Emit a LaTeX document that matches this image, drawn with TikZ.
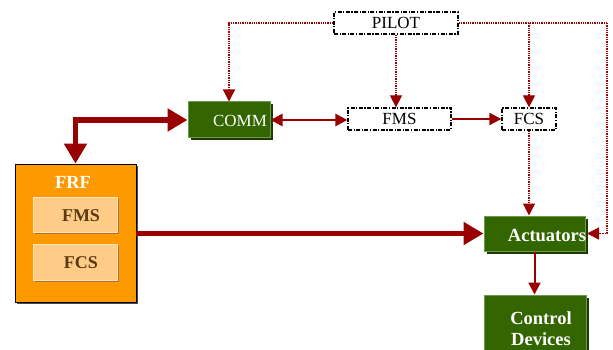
\documentclass[tikz,border=0pt]{standalone}
\usepackage{fontspec}
\setmainfont{Liberation Serif}
\usetikzlibrary{arrows.meta,shadows}
\definecolor{dred}{HTML}{990000}
\definecolor{gfill}{HTML}{336600}
\definecolor{gedge}{HTML}{6E9A4E}
\definecolor{gshadow}{HTML}{1E3A00}
\definecolor{ofill}{HTML}{FF9900}
\definecolor{lofill}{HTML}{FFCC88}
\definecolor{loshadow}{HTML}{A87838}
\definecolor{loedge}{HTML}{FFE2B8}
\definecolor{btext}{HTML}{5A3A10}
\tikzset{
  dashbox/.style={draw=black, line width=1.3pt, dash pattern=on 4pt off 1.5pt on 1.2pt off 1.5pt, fill=white, inner sep=0pt, font=\fontsize{17}{19}\selectfont},
  greenbox/.style={fill=gfill, draw=gedge, line width=1pt, inner sep=0pt, drop shadow={shadow xshift=2.5pt, shadow yshift=-2.5pt, fill=gshadow, opacity=1}},
  lightbox/.style={fill=lofill, draw=loedge, line width=1pt, inner sep=0pt, drop shadow={shadow xshift=2pt, shadow yshift=-2pt, fill=loshadow, opacity=1}},
  frfbox/.style={fill=ofill, draw=black, line width=0.8pt, inner sep=0pt, drop shadow={shadow xshift=1.5pt, shadow yshift=-1.5pt, fill=black!70, opacity=1}},
  wtxt/.style={text=white, inner sep=0pt, font=\fontsize{17}{19}\selectfont},
  wbtxt/.style={text=white, inner sep=0pt, font=\fontsize{18.5}{20}\selectfont\bfseries},
  btxt/.style={text=btext, inner sep=0pt, font=\fontsize{18}{20}\selectfont\bfseries},
  thickarrow/.style={draw=dred, line width=5.5pt},
  bighead/.tip={Triangle[length=20pt,width=22pt]},
  smallhead/.tip={Triangle[length=12pt,width=12pt]},
  dotline/.style={draw=dred, line width=1.3pt, densely dotted},
}
\begin{document}
\begin{tikzpicture}[x=1pt,y=-1pt]
\useasboundingbox[fill=white] (0,0) rectangle (613,350);

% boxes
\node[dashbox, minimum width=124pt, minimum height=22pt] (pilot) at (396,23) {PILOT};
\node[greenbox, minimum width=82pt, minimum height=36pt] (comm) at (229,120) {};
\node[wtxt] (commtxt) at (240,121) {COMM};
\node[dashbox, minimum width=103pt, minimum height=22pt] (fms) at (399.5,119) {FMS};
\node[dashbox, minimum width=54pt, minimum height=22pt] (fcs) at (529,119) {FCS};
\node[greenbox, minimum width=101pt, minimum height=35pt] (act) at (534.5,233.5) {};
\node[wbtxt] (acttxt) at (547,236) {Actuators};
\node[greenbox, minimum width=102pt, minimum height=58pt] (ctrl) at (535,324) {};
\node[wbtxt, align=center] (ctrltxt) at (541,329) {Control\\[1pt]Devices};

\node[frfbox, minimum width=121pt, minimum height=138pt] (frf) at (75.5,233) {};
\node[wbtxt] (frftxt) at (73,182) {FRF};
\node[lightbox, minimum width=84pt, minimum height=35pt] (ifms) at (75,214.5) {};
\node[btxt] (ifmstxt) at (81,216) {FMS};
\node[lightbox, minimum width=84pt, minimum height=36pt] (ifcs) at (75,262) {};
\node[btxt] (ifcstxt) at (81,263) {FCS};

% thick connectors
\draw[thickarrow, bighead-bighead] (comm.west) -| (frf.north);
\draw[thickarrow, -bighead] (frf.east |- act.west) -- (act.west);

% red solid connectors
\draw[draw=dred, line width=2.5pt, smallhead-smallhead] (comm.east) -- (comm.east -| fms.west);
\draw[draw=dred, line width=2pt, -smallhead] (fms.east) -- (fcs.west);
\draw[draw=dred, line width=2pt, -smallhead] (act.south) -- (act.south |- ctrl.north);

% dotted connectors
\coordinate (pl) at (229,23);
\coordinate (pr) at (607,23);
\coordinate (pbr) at (529,23);
\coordinate (prd) at (607,233.5);
\draw[dotline, -smallhead] (pilot.west) -- (pl) -- (comm.north);
\draw[dotline, -smallhead] (pilot.south) -- (pilot.south |- fms.north);
\draw[dotline] (pilot.east) -- (pr);
\draw[dotline, -smallhead] (pr) -- (prd) -- ([xshift=1.5pt]act.east);
\draw[dotline, -smallhead] (pbr) -- (fcs.north);
\draw[dotline, -smallhead] (fcs.south) -- (fcs.south |- act.north);
\end{tikzpicture}
\end{document}
